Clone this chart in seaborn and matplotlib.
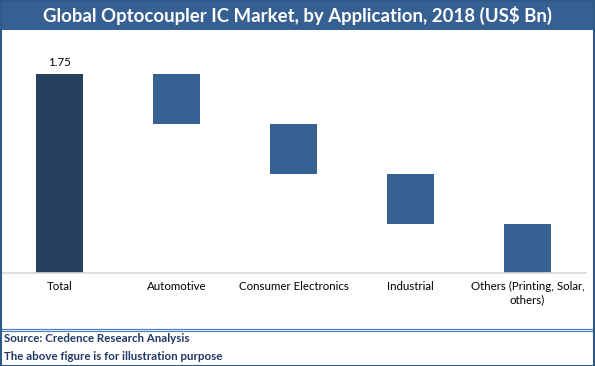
import matplotlib
matplotlib.use("Agg")
import matplotlib.pyplot as plt
import seaborn as sns
import numpy as np
from matplotlib.patches import Rectangle
from matplotlib.lines import Line2D

# ---- data ----
categories = ["Total", "Automotive", "Consumer Electronics", "Industrial",
              "Others (Printing, Solar,\nothers)"]
total_value = 1.75
segment_values = [0.44, 0.44, 0.44, 0.43]  # drops for each application
title = "Global Optocoupler IC Market, by Application, 2018 (US$ Bn)"
source_lines = ["Source: Credence Research Analysis",
                "The above figure is for illustration purpose"]

# waterfall tops / bottoms
tops = [total_value]
bottoms = [0.0]
level = total_value
for v in segment_values:
    tops.append(level)
    bottoms.append(level - v)
    level -= v

sns.set_theme(style="white")
plt.rcParams['font.family'] = ['Lato', 'DejaVu Sans']

W, H = 595, 366
fig = plt.figure(figsize=(W / 100, H / 100), dpi=100)
fig.patch.set_facecolor("white")

ax = fig.add_axes([1 / W, (H - 273) / H, 585 / W, 227 / H])

bar_colors = ["#26405F"] + ["#376192"] * 4
sns.barplot(x=categories, y=tops, hue=categories, palette=bar_colors,
            legend=False, width=0.4, linewidth=0, ax=ax, saturation=1)
sns.barplot(x=categories, y=bottoms, color="white", width=0.4,
            linewidth=0, ax=ax, saturation=1)

ax.set_xlim(-0.5, 4.5)
ax.set_ylim(0, 2.0)
ax.set_yticks([])
for s in ["top", "right", "left"]:
    ax.spines[s].set_visible(False)
ax.spines["bottom"].set_color("#D9D9D9")
ax.spines["bottom"].set_linewidth(1.2)
ax.spines["bottom"].set_zorder(10)
ax.tick_params(axis="x", length=0, pad=6, labelsize=8.3, colors="black")
for lbl in ax.get_xticklabels():
    lbl.set_horizontalalignment("center")
    lbl.set_multialignment("center")
ax.set_xlabel("")
ax.set_ylabel("")
ax.patch.set_alpha(0)

ax.text(0, total_value + 0.06, f"{total_value:.2f}", ha="center", va="bottom",
        fontsize=8.3, color="black")

# header band
fig.patches.append(Rectangle((0, (H - 30) / H), 1, 30 / H, transform=fig.transFigure,
                             facecolor="#376092", edgecolor="none", zorder=0))
fig.text(0.5, (H - 15.5) / H, title, ha="center", va="center", color="white",
         fontsize=13.4, fontweight="bold")

# footer separator (double line)
for yy in (328.5, 331):
    fig.add_artist(Line2D([0, 1], [(H - yy) / H] * 2, transform=fig.transFigure,
                          color="#4F81BD", linewidth=0.9))
fig.text(4 / W, (H - 339) / H, source_lines[0], ha="left", va="center",
         color="#1F3864", fontsize=8.3, fontweight="bold")
fig.text(4 / W, (H - 356) / H, source_lines[1], ha="left", va="center",
         color="#1F3864", fontsize=8.3, fontweight="bold")

# outer border
fig.patches.append(Rectangle((0.5 / W, 0.5 / H), (W - 1.5) / W, (H - 1.5) / H,
                             transform=fig.transFigure, facecolor="none",
                             edgecolor="#2E5A8A", linewidth=1.5, zorder=5))

fig.savefig("out.png", dpi=100)
